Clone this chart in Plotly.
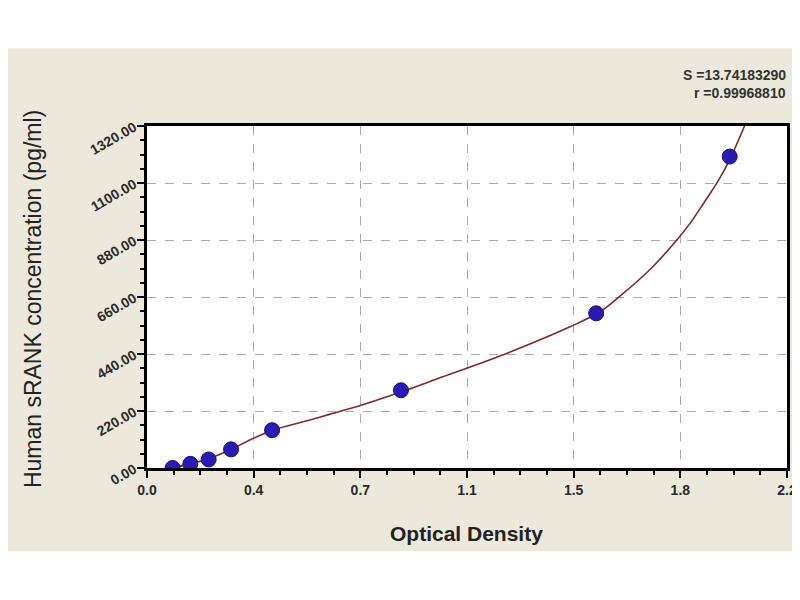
import plotly.graph_objects as go

# Standard points (optical density vs concentration)
od_points = [0.088, 0.149, 0.212, 0.289, 0.430, 0.873, 1.544, 2.003]
conc_points = [0, 16, 33, 72, 146, 300, 597, 1202]

# Fitted curve
curve_od = [0.088, 0.15, 0.21, 0.29, 0.355, 0.43, 0.55, 0.63, 0.733, 0.87, 1.0,
            1.215, 1.456, 1.559, 1.628, 1.731, 1.822, 1.868, 1.914, 1.966, 2.003, 2.054]
curve_conc = [0, 17, 35, 72, 109, 145, 182, 208, 241, 292, 345,
              433, 546, 604, 665, 768, 881, 946, 1023, 1113, 1190, 1320]

x_tickvals = [0, 2.2/6, 2*2.2/6, 3*2.2/6, 4*2.2/6, 5*2.2/6, 2.2]
x_ticktext = ["0.0", "0.4", "0.7", "1.1", "1.5", "1.8", "2.2"]
y_tickvals = [0, 220, 440, 660, 880, 1100, 1320]
y_ticktext = ["0.00", "220.00", "440.00", "660.00", "880.00", "1100.00", "1320.00"]

stats_text = ["S =13.74183290", "r =0.99968810"]
x_title = "Optical Density"
y_title = "Human sRANK concentration (pg/ml)"

fig = go.Figure()
fig.add_trace(go.Scatter(
    x=curve_od, y=curve_conc, mode="lines",
    line=dict(color="#7a2b2b", width=1.6, shape="spline", smoothing=1.0),
    hoverinfo="skip", showlegend=False))
fig.add_trace(go.Scatter(
    x=od_points, y=conc_points, mode="markers",
    marker=dict(symbol="circle", size=15, color="#2a1cb0",
                line=dict(color="#1a0e80", width=1)),
    showlegend=False))

fig.update_xaxes(
    range=[0, 2.2], tickmode="array", tickvals=x_tickvals, ticktext=["<b>" + t + "</b>" for t in x_ticktext],
    ticks="outside", ticklen=7, tickwidth=2, tickcolor="black",
    minor=dict(ticks="outside", ticklen=4, tickwidth=1.5, tickcolor="black",
               tick0=0, dtick=2.2/24, showgrid=False),
    showline=True, linecolor="black", linewidth=3, mirror=True,
    showgrid=True, gridcolor="#ababab", gridwidth=1, griddash="dash",
    zeroline=False,
    tickfont=dict(family="Liberation Sans Narrow, Liberation Sans, Arial", size=14, color="#2a2a2a"))
fig.update_yaxes(
    range=[0, 1320], tickmode="array", tickvals=y_tickvals, ticktext=["<b>" + t + "</b>" for t in y_ticktext],
    ticks="outside", ticklen=7, tickwidth=2, tickcolor="black", tickangle=-30,
    minor=dict(ticks="outside", ticklen=4, tickwidth=1.5, tickcolor="black",
               tick0=0, dtick=55, showgrid=False),
    showline=True, linecolor="black", linewidth=3, mirror=True,
    showgrid=True, gridcolor="#ababab", gridwidth=1, griddash="dash",
    zeroline=False,
    tickfont=dict(family="Liberation Sans, Arial, sans-serif", size=14, color="#2a2a2a"))

# axis titles
fig.add_annotation(
    text="<b>" + x_title + "</b>", xref="paper", yref="paper",
    x=0.499, y=-0.192, xanchor="center", yanchor="middle", showarrow=False,
    font=dict(family="Liberation Sans, Arial, sans-serif", size=21, color="#222"))
fig.add_annotation(
    text=y_title, xref="paper", yref="paper", textangle=-90,
    x=-0.1777, y=0.4946, xanchor="center", yanchor="middle", showarrow=False,
    font=dict(family="Liberation Sans, Arial, sans-serif", size=23, color="#222"))

for i, t in enumerate(stats_text):
    fig.add_annotation(
        text="<b>" + t + "</b>", xref="paper", yref="paper",
        x=1.0023, y=1.149 - i * 0.0535, xanchor="right", yanchor="middle",
        showarrow=False,
        font=dict(family="Liberation Sans Narrow, Liberation Sans, Arial", size=14, color="#333"))

# white strips above and below the beige panel
fig.add_shape(type="rect", xref="paper", yref="paper",
              x0=-0.3, x1=1.1, y0=1.227, y1=1.5, fillcolor="white", line_width=0, layer="below")
fig.add_shape(type="rect", xref="paper", yref="paper",
              x0=-0.3, x1=1.1, y0=-0.5, y1=-0.2437, fillcolor="white", line_width=0, layer="below")

fig.update_layout(
    width=800, height=600,
    margin=dict(l=139, r=21, t=118, b=140),
    paper_bgcolor="#ece9dc", plot_bgcolor="white",
    showlegend=False)

fig.write_html("out.html")
